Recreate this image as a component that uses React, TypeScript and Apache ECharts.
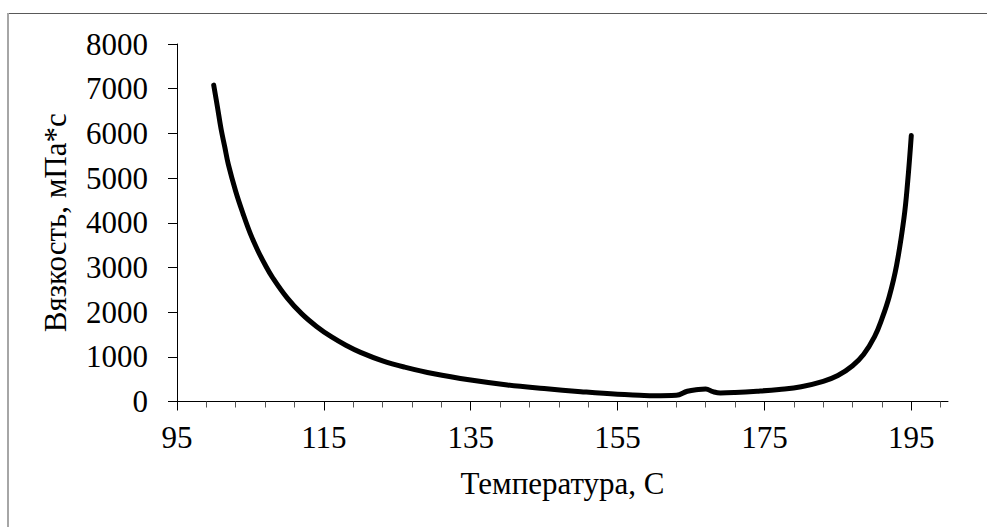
import React, { useEffect, useRef } from "react";
import * as echarts from "echarts";

const temperature: number[] = [
  100.0, 100.5, 101, 101.5, 102, 103, 104, 105, 106, 107, 108, 110, 112, 114, 116, 118, 120, 123, 126, 130,
  135, 140, 145, 150, 155, 158, 160, 163, 164.5, 166, 167, 168, 169, 171, 174, 177, 180, 183, 185, 187,
  188.5, 190, 191, 192, 193, 194, 194.5, 195,
];
const viscosity: number[] = [
  7080, 6600, 6100, 5700, 5300, 4700, 4200, 3750, 3380, 3060, 2780, 2320, 1960, 1680, 1450, 1260, 1100, 910, 770, 620,
  480, 370, 290, 220, 160, 140, 130, 140, 230, 270, 280, 220, 190, 200, 230, 270, 330, 450, 580, 800,
  1050, 1450, 1850, 2350, 3050, 4100, 4900, 5950,
];
const xMajorTicks: number[] = [95, 115, 135, 155, 175, 195];
const xMinorTicks: number[] = [
  99, 103, 107, 111, 119, 123, 127, 131, 139, 143, 147, 151, 159, 163, 167, 171, 179, 183, 187, 191, 199,
];
const xAxisTitle = "Температура, С";
const yAxisTitle = "Вязкость, мПа*с";

const FONT = "'Liberation Serif', 'Times New Roman', serif";
const FS = 31;

export default function App() {
  const ref = useRef<HTMLDivElement>(null);
  useEffect(() => {
    if (!ref.current) return;
    const chart = echarts.init(ref.current, null, { renderer: "svg" });
    const data = temperature.map((t, i) => [t, viscosity[i]]);
    chart.setOption({
      animation: false,
      backgroundColor: "#ffffff",
      grid: { left: 177, top: 44, right: 39, bottom: 125.5, containLabel: false },
      xAxis: [
        {
          type: "value",
          min: 95,
          max: 200,
          name: xAxisTitle,
          nameLocation: "middle",
          nameGap: 66,
          nameTextStyle: { fontFamily: FONT, fontSize: FS, color: "#000" },
          axisLine: { show: true, onZero: false, lineStyle: { color: "#000", width: 1 } },
          axisTick: { show: true, customValues: xMajorTicks, length: 9, lineStyle: { color: "#000" } },
          axisLabel: {
            customValues: xMajorTicks,
            fontFamily: FONT,
            fontSize: FS,
            color: "#000",
            margin: 20,
            formatter: (v: number) => String(v),
          },
          splitLine: { show: false },
        },
        {
          type: "value",
          min: 95,
          max: 200,
          position: "bottom",
          axisLine: { show: false, onZero: false },
          axisTick: { show: true, customValues: xMinorTicks, length: 6, lineStyle: { color: "#555" } },
          axisLabel: { show: false },
          splitLine: { show: false },
        },
      ],
      yAxis: {
        type: "value",
        min: 0,
        max: 8000,
        interval: 1000,
        name: yAxisTitle,
        nameLocation: "middle",
        nameGap: 106,
        nameTextStyle: { fontFamily: FONT, fontSize: FS, color: "#000" },
        axisLine: { show: true, lineStyle: { color: "#000", width: 1 } },
        axisTick: { show: true, length: 9, lineStyle: { color: "#000" } },
        axisLabel: {
          fontFamily: FONT,
          fontSize: FS,
          color: "#000",
          margin: 29,
          formatter: (v: number) => String(v),
        },
        splitLine: { show: false },
      },
      series: [
        {
          type: "line",
          data,
          xAxisIndex: 0,
          showSymbol: false,
          smooth: 0.4,
          lineStyle: { color: "#000", width: 5, cap: "round", join: "round" },
        },
      ],
      graphic: [
        { type: "line", shape: { x1: 8, y1: 13.5, x2: 987, y2: 13.5 }, style: { stroke: "#595959", lineWidth: 1 } },
        { type: "line", shape: { x1: 8, y1: 13, x2: 8, y2: 527 }, style: { stroke: "#a6a6a6", lineWidth: 2 } },
      ],
    });
    return () => chart.dispose();
  }, []);
  return <div ref={ref} style={{ position: "fixed", left: 0, top: 0, width: 987, height: 527 }} />;
}
